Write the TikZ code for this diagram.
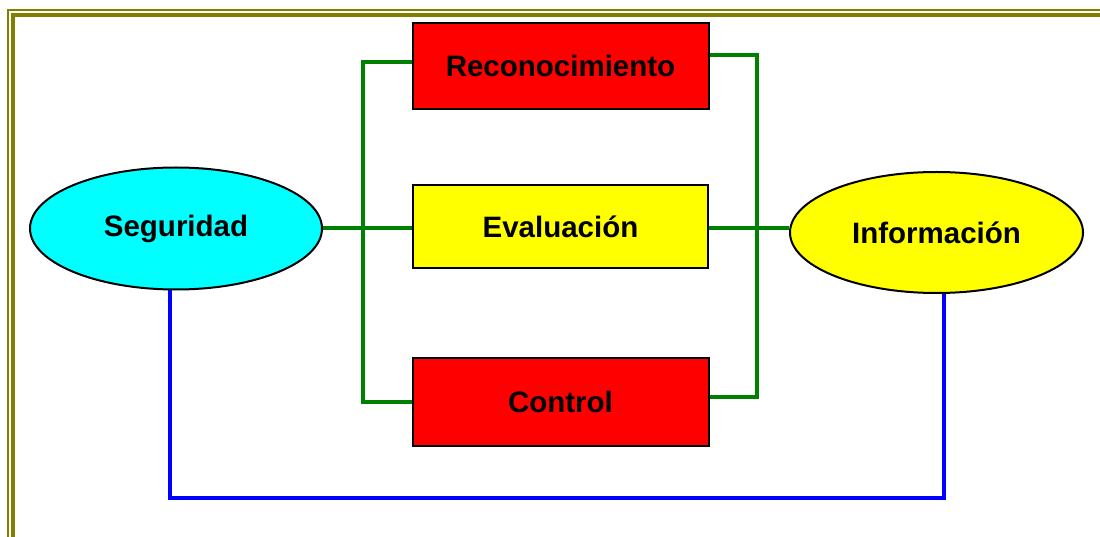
\documentclass[tikz,border=0pt]{standalone}
\usepackage{fontspec}
\setmainfont{Liberation Sans}
\usetikzlibrary{calc}
\usetikzlibrary{shapes.geometric}
\definecolor{marco}{HTML}{808000}
\definecolor{verde}{HTML}{008000}
\definecolor{azul}{HTML}{0000FF}
\definecolor{cian}{HTML}{00FFFF}
\definecolor{amarillo}{HTML}{FFFF00}
\definecolor{rojo}{HTML}{FF0000}
\tikzset{
  caja/.style={draw=black, line width=2pt, rectangle, inner sep=0pt,
    minimum width=296pt, font=\fontsize{29.5}{31}\selectfont\bfseries},
  ovalo/.style={draw=black, line width=2pt, ellipse, inner sep=0pt,
    minimum width=292pt, minimum height=122pt, font=\fontsize{29.5}{31}\selectfont\bfseries},
  enlace/.style={verde, line width=3.2pt},
  retorno/.style={azul, line width=4pt}
}

\begin{document}
\begin{tikzpicture}[x=1pt,y=-1pt]
\useasboundingbox (0,0) rectangle (1100,537);
\clip (0,0) rectangle (1100,537);
% marco doble
\draw[marco, line width=2.2pt] (8.3,1200) -- (8.3,10) -- (1200,10);
\draw[marco, line width=3.6pt] (13,1200) -- (13,15) -- (1200,15);
% nodos
\coordinate (izq) at (363,228);
\coordinate (der) at (757,228);
\coordinate (abajo) at (560,498);
\node[ovalo, fill=cian] (seg) at (176,228.5) {Seguridad};
\node[ovalo, fill=amarillo, minimum width=293pt, minimum height=121pt] (inf) at (936.5,232.5) {Información};
\node[caja, fill=rojo, minimum height=86pt] (rec) at (560.5,66) {Reconocimiento};
\node[caja, fill=amarillo, minimum height=83pt, minimum width=295pt] (eva) at (560.5,226.5) {Evaluación};
\node[caja, fill=rojo, minimum height=88pt] (con) at (560.5,402) {Control};
% enlaces
\draw[enlace] (seg.east |- izq) -- (eva.west |- izq);
\draw[enlace] (eva.east |- der) -- (inf.west |- der);
\draw[enlace] ([yshift=4pt]rec.west) -| (izq) |- (con.west);
\draw[enlace] ([yshift=11pt]rec.east) -| (der) |- ([yshift=5pt]con.east);
\draw[retorno] ([xshift=-6pt]seg.south) |- (abajo) -| ([xshift=7.5pt]inf.south);
\end{tikzpicture}
\end{document}
